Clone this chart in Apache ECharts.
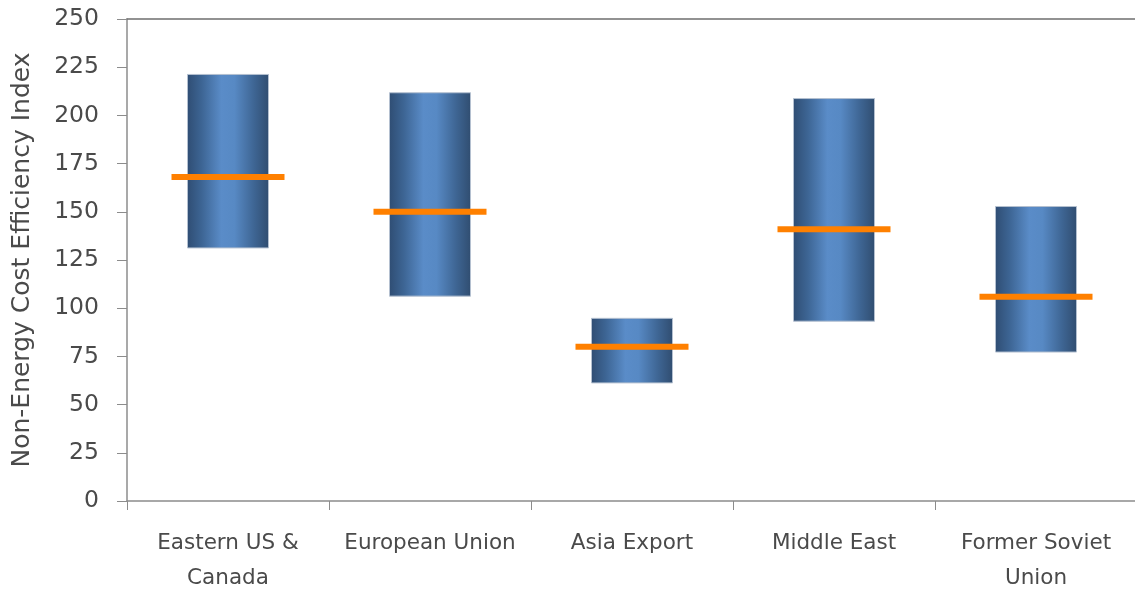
<!DOCTYPE html>
<html><head><meta charset="utf-8">
<script src="https://cdn.jsdelivr.net/npm/echarts@6/dist/echarts.min.js"></script>
<style>html,body{margin:0;padding:0;background:#fff;overflow:hidden}#c{width:1137px;height:594px}</style>
</head><body><div id="c"></div>
<script>
const categories = ['Eastern US &\nCanada', 'European Union', 'Asia Export', 'Middle East', 'Former Soviet\nUnion'];
const lows = [131, 106, 61, 93, 77];
const highs = [221.5, 212, 95, 209, 153];
const mids = [168, 150, 80, 141, 106];
const yTicks = [0, 25, 50, 75, 100, 125, 150, 175, 200, 225, 250];

const spans = highs.map((h, i) => +(h - lows[i]).toFixed(2));
const textColor = '#4a4a4a';
const axisColor = '#8c8c8c';
const font = 'DejaVu Sans';

const chart = echarts.init(document.getElementById('c'), null, {renderer: 'canvas'});
chart.setOption({
  animation: false,
  backgroundColor: '#fff',
  grid: {left: 127, right: 0, top: 19, bottom: 93, containLabel: false, outerBoundsMode: 'none'},
  xAxis: [{
    type: 'category', data: categories, position: 'bottom',
    axisLine: {lineStyle: {color: axisColor, width: 1.5}},
    axisTick: {show: true, length: 9, lineStyle: {color: axisColor}},
    axisLabel: {color: textColor, fontFamily: font, fontSize: 21.5, margin: 25, lineHeight: 35, interval: 0},
    splitLine: {show: false}
  }, {
    type: 'category', data: categories, position: 'top',
    axisLine: {show: true, lineStyle: {color: '#6f6f6f', width: 1.5}},
    axisTick: {show: false}, axisLabel: {show: false}, splitLine: {show: false}
  }],
  yAxis: {
    type: 'value', min: yTicks[0], max: yTicks[yTicks.length - 1], interval: 25,
    name: 'Non-Energy Cost Efficiency Index', nameLocation: 'middle', nameGap: 92,
    nameTextStyle: {color: textColor, fontFamily: font, fontSize: 25},
    axisLine: {show: true, lineStyle: {color: axisColor, width: 1.5}},
    axisTick: {show: true, inside: false, length: 10, lineStyle: {color: axisColor}},
    axisLabel: {color: textColor, fontFamily: font, fontSize: 23.5, margin: 28},
    splitLine: {show: false}
  },
  series: [{
    type: 'bar', stack: 'r', data: lows, barWidth: 82,
    itemStyle: {color: 'rgba(0,0,0,0)'}, silent: true
  }, {
    type: 'bar', stack: 'r', data: spans, barWidth: 82,
    itemStyle: {
      borderColor: '#b4c0d0', borderWidth: 1,
      color: new echarts.graphic.LinearGradient(0, 0, 1, 0, [
        {offset: 0, color: '#2f4d73'},
        {offset: 0.18, color: '#3d6594'},
        {offset: 0.42, color: '#5a8cc8'},
        {offset: 0.58, color: '#5789c4'},
        {offset: 0.82, color: '#3e6593'},
        {offset: 1, color: '#304d70'}
      ])
    }
  }, {
    type: 'scatter', data: mids, symbol: 'rect', symbolSize: [113, 6],
    itemStyle: {color: '#ff8000', opacity: 1}, z: 5
  }]
});
</script></body></html>
